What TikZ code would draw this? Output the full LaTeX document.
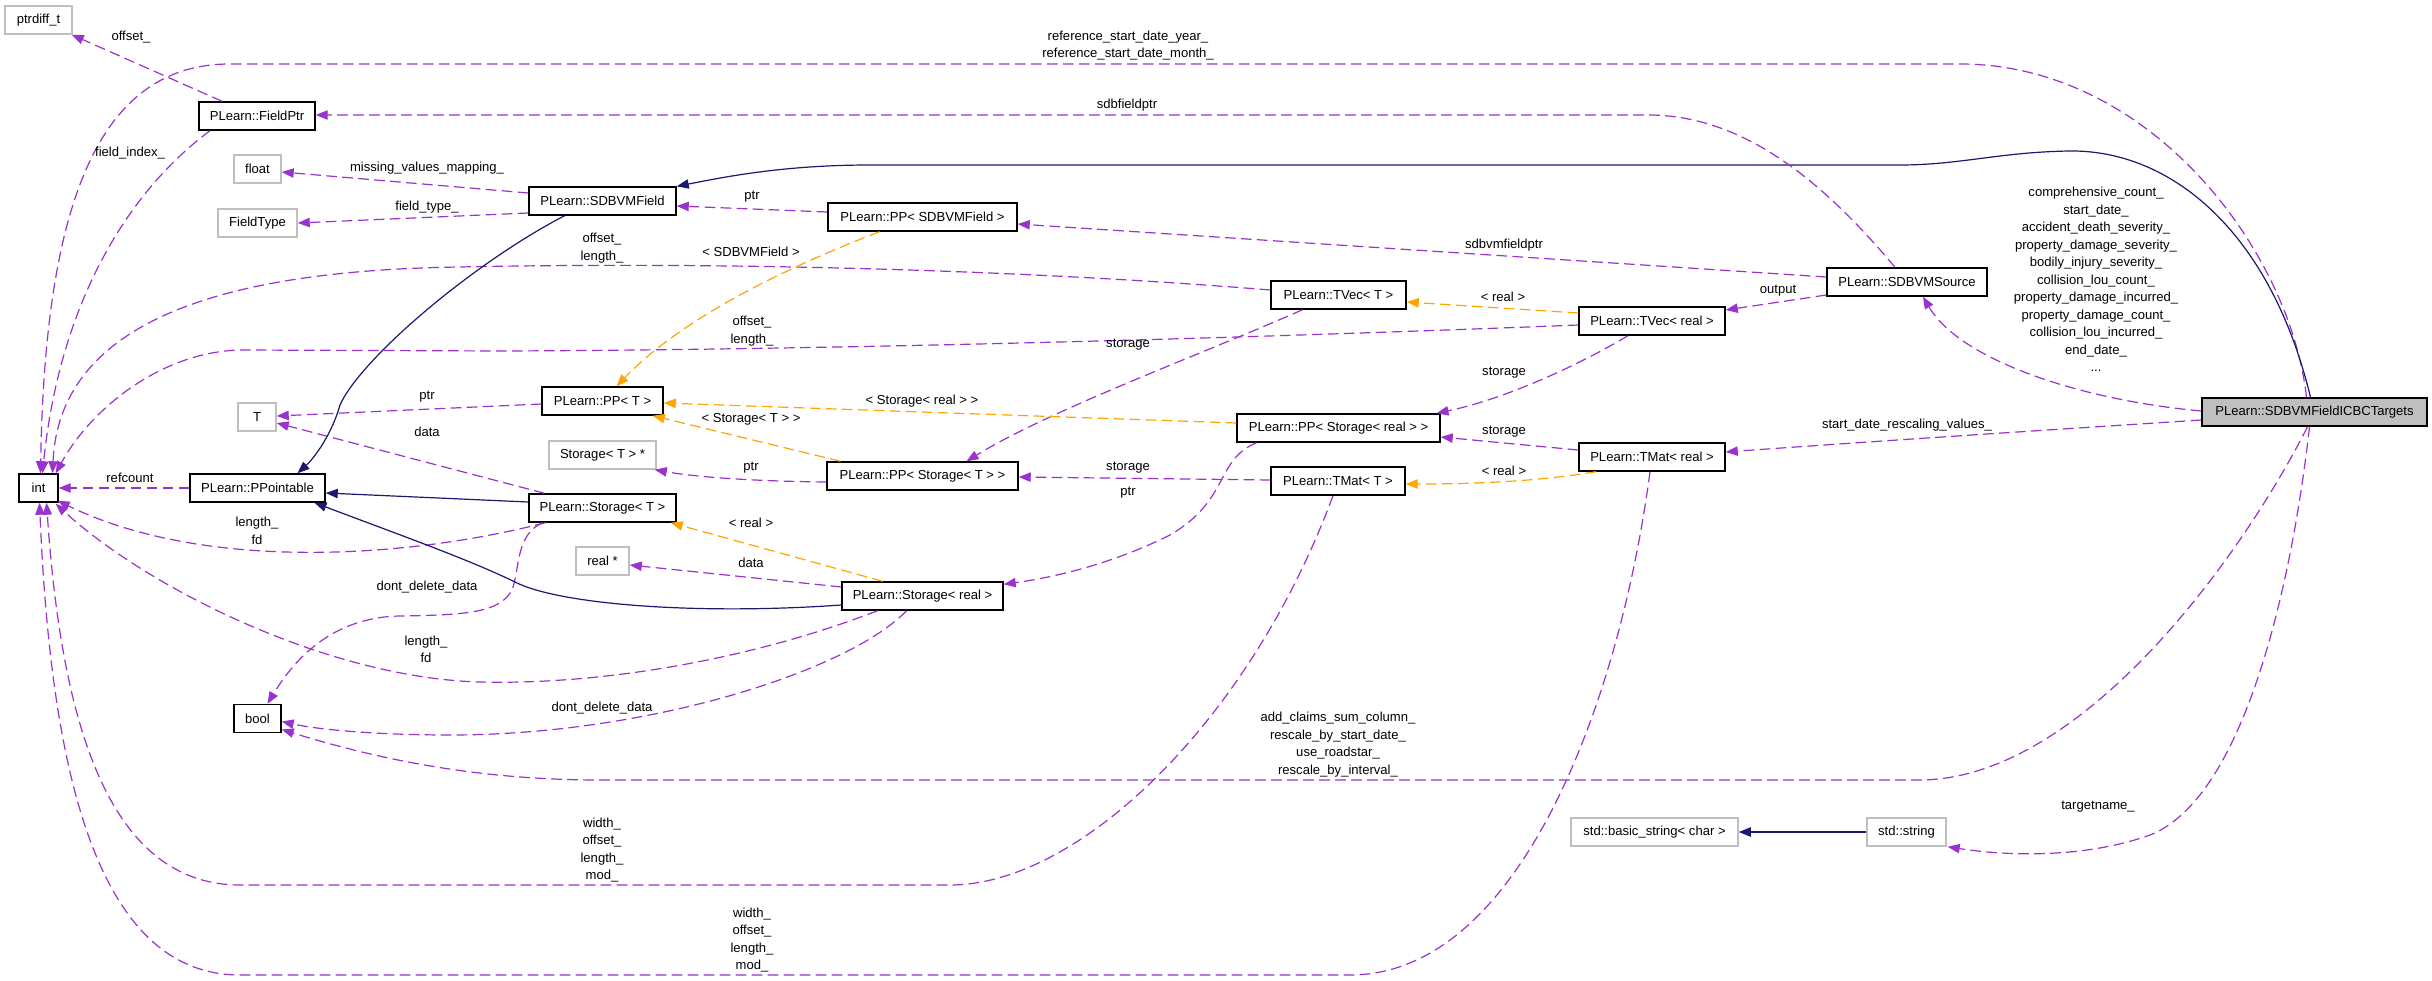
\documentclass[tikz,border=0pt]{standalone}
\usepackage{fontspec}
\setmainfont{Liberation Sans}
\usetikzlibrary{arrows.meta}
\definecolor{usec}{HTML}{9A32CD}
\definecolor{inhc}{HTML}{191970}
\definecolor{tplc}{HTML}{FFA500}
\definecolor{greyb}{HTML}{BFBFBF}
\begin{document}
\begin{tikzpicture}[x=0.75pt,y=-0.75pt,
  box/.style={draw=black, fill=white, line width=1.1pt, minimum height=21pt, inner sep=0pt, font=\fontsize{9.8}{11}\selectfont},
  gbox/.style={box, draw=greyb},
  lbl/.style={inner sep=0pt, align=center, font=\fontsize{9.8}{13.1}\selectfont},
  use/.style={draw=usec, line width=0.9pt, dash pattern=on 8pt off 4pt, -{Triangle[length=9pt,width=7pt]}},
  inh/.style={draw=inhc, line width=0.9pt, -{Triangle[length=9pt,width=7pt]}},
  tpl/.style={draw=tplc, line width=0.9pt, dash pattern=on 8pt off 4pt, -{Triangle[length=9pt,width=7pt]}}
]
\useasboundingbox (0,0) rectangle (2432,981);
\fill[white] (0,0) rectangle (2432,981);

% nodes
\node[gbox, minimum width=67*0.75pt] (ptrdiff) at (38.5,20) {ptrdiff\_t};
\node[box, minimum width=116*0.75pt] (fieldptr) at (257,116) {PLearn::FieldPtr};
\node[gbox, minimum width=47*0.75pt] (float) at (257.5,169) {float};
\node[gbox, minimum width=79*0.75pt] (fieldtype) at (257.5,223) {FieldType};
\node[box, minimum width=147*0.75pt] (sdbvmfield) at (602.5,201) {PLearn::SDBVMField};
\node[box, minimum width=189*0.75pt] (ppsdbvmfield) at (922.5,217) {PLearn::PP< SDBVMField >};
\node[box, minimum width=39*0.75pt] (int) at (38.5,488) {int};
\node[box, minimum width=135*0.75pt] (ppointable) at (257.5,488) {PLearn::PPointable};
\node[gbox, minimum width=38*0.75pt] (T) at (257,417) {T};
\node[box, minimum width=121*0.75pt] (ppT) at (602.5,401) {PLearn::PP< T >};
\node[gbox, minimum width=107*0.75pt] (storageTstar) at (602.5,455) {Storage< T > *};
\node[box, minimum width=147*0.75pt] (storageT) at (602.5,508) {PLearn::Storage< T >};
\node[gbox, minimum width=53*0.75pt] (realstar) at (602.5,561) {real *};
\node[box, minimum width=191*0.75pt] (ppstorageT) at (922.5,476) {PLearn::PP< Storage< T > >};
\node[box, minimum width=161*0.75pt] (storagereal) at (922.5,596) {PLearn::Storage< real >};
\node[box, minimum width=135*0.75pt] (tvecT) at (1338.5,295) {PLearn::TVec< T >};
\node[box, minimum width=146*0.75pt] (tvecreal) at (1652,321) {PLearn::TVec< real >};
\node[box, minimum width=160*0.75pt] (sdbvmsource) at (1907,282) {PLearn::SDBVMSource};
\node[box, minimum width=203*0.75pt] (ppstoragereal) at (1338.5,428) {PLearn::PP< Storage< real > >};
\node[box, minimum width=134*0.75pt] (tmatT) at (1338,481) {PLearn::TMat< T >};
\node[box, minimum width=146*0.75pt] (tmatreal) at (1652,457) {PLearn::TMat< real >};
\node[box, fill=greyb, minimum width=225*0.75pt] (icbc) at (2314.5,412) {PLearn::SDBVMFieldICBCTargets};
\node[box, minimum width=47*0.75pt] (bool) at (257.5,718.5) {bool};
\node[gbox, minimum width=167*0.75pt] (basicstring) at (1654.5,832) {std::basic\_string< char >};
\node[gbox, minimum width=79*0.75pt] (stdstring) at (1906.5,832) {std::string};

% edges
\draw[use] ([shift={(-35,0)}]fieldptr.north) -- ([shift={(-1,0)}]ptrdiff.south east);
\draw[use] ([shift={(-47,0)}]fieldptr.south) .. controls (130,190) and (60,300) .. ([shift={(4,0)}]int.north);
\draw[use] ([shift={(-8,0)}]icbc.north) .. controls (2290,250) and (2150,64) .. (1960,64) -- (230,64) .. controls (100,64) and (45,200) .. ([shift={(2,0)}]int.north);
\draw[use] ([shift={(0,-5)}]tvecT.west) .. controls (1000,268) and (700,262) .. (460,267) .. controls (250,270) and (60,310) .. ([shift={(14,0)}]int.north);
\draw[use] ([shift={(0,4)}]tvecreal.west) .. controls (1200,340) and (800,350) .. (500,351) -- (240,350) .. controls (160,352) and (90,410) .. ([shift={(-3,0)}]int.north east);
\draw[use] (ppointable.west) -- (int.east);
\draw[use] ([shift={(-57,0)}]storageT.south) .. controls (400,560) and (200,570) .. ([shift={(-1,-2)}]int.south east);
\draw[use] ([shift={(-60,0)}]storageT.south) .. controls (515,535) and (520,570) .. (512,590) .. controls (500,612) and (470,615) .. (400,616) .. controls (340,617) and (300,650) .. ([shift={(10,0)}]bool.north);
\draw[use] ([shift={(-58,0)}]storageT.north) -- ([shift={(0,6)}]T.east);
\draw[inh] ([shift={(0,-6)}]storageT.west) -- ([shift={(0,5)}]ppointable.east);
\draw[use] ([shift={(0,3)}]ppT.west) -- ([shift={(0,-1)}]T.east);
\draw[inh] ([shift={(-38,0)}]sdbvmfield.south) .. controls (470,265) and (360,360) .. (340,405) .. controls (330,440) and (310,462) .. ([shift={(40,0)}]ppointable.north);
\draw[use] ([shift={(0,-8)}]sdbvmfield.west) -- ([shift={(0,3)}]float.east);
\draw[use] ([shift={(0,12)}]sdbvmfield.west) -- (fieldtype.east);
\draw[inh] ([shift={(-4,0)}]icbc.north) .. controls (2270,230) and (2170,150) .. (2070,151) .. controls (2000,152) and (1960,165) .. (1900,165) -- (870,165) .. controls (780,165) and (720,178) .. (sdbvmfield.north east);
\draw[use] ([shift={(0,-5)}]ppsdbvmfield.west) -- ([shift={(0,5)}]sdbvmfield.east);
\draw[tpl] ([shift={(-43,0)}]ppsdbvmfield.south) .. controls (780,270) and (680,320) .. ([shift={(14,0)}]ppT.north);
\draw[use] ([shift={(-12,0)}]sdbvmsource.north) .. controls (1830,190) and (1750,116) .. (1650,115) -- ([shift={(0,-1)}]fieldptr.east);
\draw[use] ([shift={(0,-5)}]sdbvmsource.west) -- ([shift={(0,7)}]ppsdbvmfield.east);
\draw[use] ([shift={(0,13)}]sdbvmsource.west) -- ([shift={(0,-11)}]tvecreal.east);
\draw[use] ([shift={(0,-1)}]icbc.west) .. controls (2080,400) and (1960,360) .. ([shift={(16,0)}]sdbvmsource.south);
\draw[use] ([shift={(0,8)}]icbc.west) .. controls (2000,433) and (1850,443) .. ([shift={(0,-5)}]tmatreal.east);
\draw[tpl] ([shift={(0,-8)}]tvecreal.west) -- ([shift={(0,7)}]tvecT.east);
\draw[use] ([shift={(-36,0)}]tvecT.south) .. controls (1200,355) and (1050,410) .. ([shift={(44,0)}]ppstorageT.north);
\draw[use] ([shift={(-24,0)}]tvecreal.south) .. controls (1570,370) and (1500,400) .. ([shift={(98,0)}]ppstoragereal.north);
\draw[use] ([shift={(0,-7)}]tmatreal.west) -- ([shift={(0,9)}]ppstoragereal.east);
\draw[tpl] ([shift={(-56,0)}]tmatreal.south) .. controls (1540,481) and (1480,484) .. ([shift={(0,3)}]tmatT.east);
\draw[use] ([shift={(0,-1)}]tmatT.west) -- ([shift={(0,1)}]ppstorageT.east);
\draw[tpl] ([shift={(0,-5)}]ppstoragereal.west) -- ([shift={(0,2)}]ppT.east);
\draw[use] ([shift={(-82,0)}]ppstoragereal.south) .. controls (1215,460) and (1230,500) .. (1170,535) .. controls (1110,565) and (1050,578) .. ([shift={(0,3)}]storagereal.north east);
\draw[tpl] ([shift={(-82,0)}]ppstorageT.north) -- ([shift={(-11,0)}]ppT.south east);
\draw[use] ([shift={(0,6)}]ppstorageT.west) .. controls (740,481) and (690,476) .. ([shift={(-2,0)}]storageTstar.south east);
\draw[tpl] ([shift={(-40,0)}]storagereal.north) -- ([shift={(-6,0)}]storageT.south east);
\draw[use] ([shift={(0,-9)}]storagereal.west) -- ([shift={(0,4)}]realstar.east);
\draw[inh] ([shift={(0,9)}]storagereal.west) .. controls (700,615) and (560,605) .. (515,582) .. controls (470,560) and (400,535) .. ([shift={(57,0)}]ppointable.south);
\draw[use] ([shift={(-45,0)}]storagereal.south) .. controls (750,660) and (600,685) .. (480,682) .. controls (330,678) and (150,590) .. ([shift={(-3,1)}]int.south east);
\draw[use] ([shift={(-16,0)}]storagereal.south) .. controls (850,670) and (650,735) .. (450,735) .. controls (380,735) and (320,730) .. ([shift={(0,3)}]bool.east);
\draw[use] ([shift={(-5,0)}]tmatT.south) .. controls (1250,720) and (1080,885) .. (950,885) -- (240,885) .. controls (100,885) and (60,700) .. ([shift={(8,0)}]int.south);
\draw[use] ([shift={(-2,0)}]tmatreal.south) .. controls (1620,700) and (1520,975) .. (1350,975) -- (240,975) .. controls (90,975) and (50,750) .. ([shift={(1,0)}]int.south);
\draw[use] ([shift={(-7,0)}]icbc.south) .. controls (2240,560) and (2080,780) .. (1919,780) -- (600,780) .. controls (480,780) and (380,760) .. ([shift={(0,11)}]bool.east);
\draw[use] ([shift={(-5,0)}]icbc.south) .. controls (2290,600) and (2240,800) .. (2150,835) .. controls (2080,860) and (2000,855) .. ([shift={(1,0)}]stdstring.south east);
\draw[inh] (stdstring.west) -- (basicstring.east);

% labels
\node[lbl] (l1) at (131,37) {offset\_};
\node[lbl] (l2) at (130,153) {field\_index\_};
\node[lbl] (l3) at (1128,45.5) {reference\_start\_date\_year\_\\reference\_start\_date\_month\_};
\node[lbl] (l4) at (1127,105) {sdbfieldptr};
\node[lbl] (l5) at (427,168) {missing\_values\_mapping\_};
\node[lbl] (l6) at (427,207) {field\_type\_};
\node[lbl] (l7) at (752,197) {ptr};
\node[lbl] (l8) at (751,252) {< SDBVMField >};
\node[lbl] (l9) at (602,248) {offset\_\\length\_};
\node[lbl] (l10) at (1504,245) {sdbvmfieldptr};
\node[lbl] (l11) at (1503,297) {< real >};
\node[lbl] (l12) at (1778,291) {output};
\node[lbl] (l13) at (1128,345) {storage};
\node[lbl] (l14) at (752,331) {offset\_\\length\_};
\node[lbl] (l15) at (427,397) {ptr};
\node[lbl] (l16) at (427,432) {data};
\node[lbl] (l17) at (922,401) {< Storage< real > >};
\node[lbl] (l18) at (751,419) {< Storage< T > >};
\node[lbl] (l19) at (751,468) {ptr};
\node[lbl] (l20) at (1128,468) {storage};
\node[lbl] (l21) at (1128,493) {ptr};
\node[lbl] (l22) at (751,523) {< real >};
\node[lbl] (l23) at (751,563) {data};
\node[lbl] (l24) at (1504,373) {storage};
\node[lbl] (l25) at (1504,432) {storage};
\node[lbl] (l26) at (1504,471) {< real >};
\node[lbl] (l27) at (1907,425) {start\_date\_rescaling\_values\_};
\node[lbl] (l28) at (130,478) {refcount};
\node[lbl] (l29) at (257,531) {length\_\\fd};
\node[lbl] (l30) at (427,587) {dont\_delete\_data};
\node[lbl] (l31) at (426,649.5) {length\_\\fd};
\node[lbl] (l32) at (602,708) {dont\_delete\_data};
\node[lbl] (l33) at (602,850) {width\_\\offset\_\\length\_\\mod\_};
\node[lbl] (l34) at (752,940) {width\_\\offset\_\\length\_\\mod\_};
\node[lbl] (l35) at (2096,279.5) {comprehensive\_count\_\\start\_date\_\\accident\_death\_severity\_\\property\_damage\_severity\_\\bodily\_injury\_severity\_\\collision\_lou\_count\_\\property\_damage\_incurred\_\\property\_damage\_count\_\\collision\_lou\_incurred\_\\end\_date\_\\...};
\node[lbl] (l36) at (1338,744.5) {add\_claims\_sum\_column\_\\rescale\_by\_start\_date\_\\use\_roadstar\_\\rescale\_by\_interval\_};
\node[lbl] (l37) at (2098,807) {targetname\_};
\end{tikzpicture}
\end{document}
